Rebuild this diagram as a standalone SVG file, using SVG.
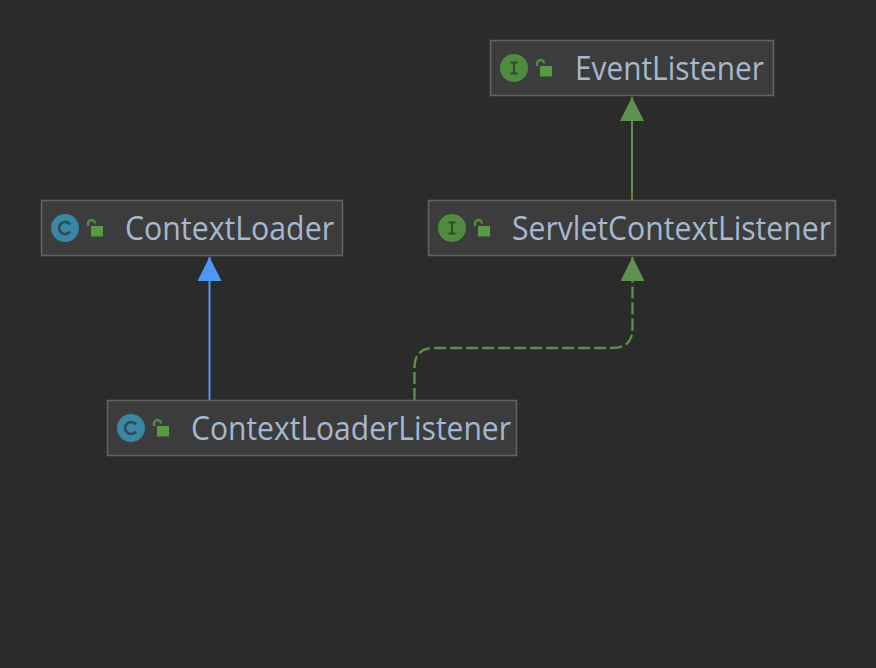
<svg xmlns="http://www.w3.org/2000/svg" width="876" height="668" viewBox="0 0 876 668">
<style>
.box{fill:#3c3c3c;stroke:#646464;stroke-width:1.5}
.label{font-family:"Open Sans","Noto Sans","Liberation Sans",sans-serif;font-size:32px;fill:#a6b8d0}
.edge{fill:none;stroke-width:2}
.green{stroke:#5b8f4a}
.blue{stroke:#4f97f5}
.dash{stroke-width:2.4;stroke-dasharray:12 4}
</style>
<defs>
<marker id="tg" markerUnits="userSpaceOnUse" markerWidth="24" markerHeight="24" refX="24" refY="12" orient="auto"><path d="M0 0L24 12L0 24Z" fill="#5e9250"/></marker>
<marker id="tb" markerUnits="userSpaceOnUse" markerWidth="24" markerHeight="24" refX="24" refY="12" orient="auto"><path d="M0 0L24 12L0 24Z" fill="#4f97f5"/></marker>
<g id="lock"><path d="M0 -2V-4.500a3.500 3.500 0 0 1 7 0" fill="none" stroke="#4f8f3c" stroke-width="2.400"/><rect x="3" y="-2" width="12" height="10.500" fill="#569a42"/></g>
<g id="ci"><circle r="14" fill="#3a87a3"/><path d="M5 -3.500A6 6 0 1 0 5 3.500" fill="none" stroke="#2b4a5c" stroke-width="2.600"/></g>
<g id="ii"><circle r="14" fill="#4f8a3f"/><path d="M-3.500 -5.500H3.500M-3.500 5.500H3.500M0 -5.500V5.500" fill="none" stroke="#2f4a2a" stroke-width="2"/></g>
</defs>
<rect width="876" height="668" fill="#2b2b2b"/>
<g id="connectors">
<path class="edge green" d="M632 200V97" marker-end="url(#tg)"/>
<path class="edge blue" d="M209.500 400V257" marker-end="url(#tb)"/>
<path class="edge green dash" d="M414.500 400V368Q414.500 348 434 348H612Q632.500 348 632.500 328V257" marker-end="url(#tg)"/>
</g>
<g id="EventListener">
<rect class="box" x="490.500" y="40.500" width="283" height="55"/>
<use href="#ii" x="514" y="68"/><use href="#lock" x="537" y="68"/>
<text class="label" x="575" y="80" textLength="189" lengthAdjust="spacingAndGlyphs">EventListener</text>
</g>
<g id="ContextLoader">
<rect class="box" x="41.500" y="200.500" width="301" height="55"/>
<use href="#ci" x="65" y="228"/><use href="#lock" x="88" y="228"/>
<text class="label" x="125" y="240" textLength="209" lengthAdjust="spacingAndGlyphs">ContextLoader</text>
</g>
<g id="ServletContextListener">
<rect class="box" x="428.500" y="200.500" width="407" height="55"/>
<use href="#ii" x="452" y="228"/><use href="#lock" x="475" y="228"/>
<text class="label" x="512" y="240" textLength="319" lengthAdjust="spacingAndGlyphs">ServletContextListener</text>
</g>
<g id="ContextLoaderListener">
<rect class="box" x="107.500" y="400.500" width="409" height="55"/>
<use href="#ci" x="131" y="428"/><use href="#lock" x="154" y="428"/>
<text class="label" x="191" y="440" textLength="320" lengthAdjust="spacingAndGlyphs">ContextLoaderListener</text>
</g>
</svg>
